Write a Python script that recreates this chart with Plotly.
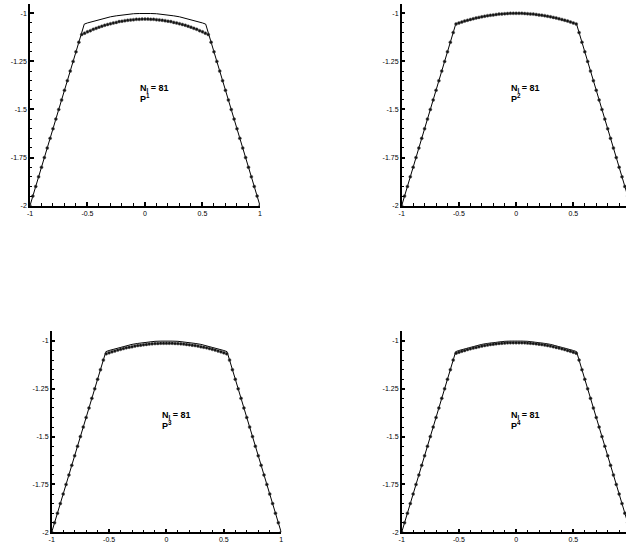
import plotly.graph_objects as go

# Nodes of the 81-point grid on [-1, 1]
node_x = [
    -1.000, -0.975, -0.950, -0.925, -0.900, -0.875, -0.850, -0.825, -0.800, -0.775,
    -0.750, -0.725, -0.700, -0.675, -0.650, -0.625, -0.600, -0.575, -0.550, -0.525,
    -0.500, -0.475, -0.450, -0.425, -0.400, -0.375, -0.350, -0.325, -0.300, -0.275,
    -0.250, -0.225, -0.200, -0.175, -0.150, -0.125, -0.100, -0.075, -0.050, -0.025,
    0.000,
    0.025, 0.050, 0.075, 0.100, 0.125, 0.150, 0.175, 0.200, 0.225, 0.250,
    0.275, 0.300, 0.325, 0.350, 0.375, 0.400, 0.425, 0.450, 0.475, 0.500,
    0.525, 0.550, 0.575, 0.600, 0.625, 0.650, 0.675, 0.700, 0.725, 0.750,
    0.775, 0.800, 0.825, 0.850, 0.875, 0.900, 0.925, 0.950, 0.975, 1.000,
]

# Exact solution (solid line)
exact_x = [-1.0, -0.528, -0.5, -0.45, -0.4, -0.35, -0.3, -0.25, -0.2, -0.15, -0.1, -0.05,
           0.0, 0.05, 0.1, 0.15, 0.2, 0.25, 0.3, 0.35, 0.4, 0.45, 0.5, 0.528, 1.0]
exact_y = [-2.0, -1.056, -1.05, -1.041, -1.032, -1.025, -1.018, -1.013, -1.008, -1.005, -1.002, -1.001,
           -1.0, -1.001, -1.002, -1.005, -1.008, -1.013, -1.018, -1.025, -1.032, -1.041, -1.05, -1.056, -2.0]

# Numerical solutions, P1..P4
p1_y = [
    -2.000, -1.950, -1.900, -1.850, -1.800, -1.750, -1.700, -1.650, -1.600, -1.550,
    -1.500, -1.450, -1.400, -1.350, -1.300, -1.250, -1.200, -1.150, -1.110, -1.103,
    -1.096, -1.090, -1.083, -1.078, -1.072, -1.067, -1.062, -1.058, -1.054, -1.050,
    -1.047, -1.043, -1.041, -1.038, -1.036, -1.034, -1.033, -1.031, -1.031, -1.030,
    -1.030,
    -1.030, -1.031, -1.031, -1.033, -1.034, -1.036, -1.038, -1.041, -1.043, -1.047,
    -1.050, -1.054, -1.058, -1.062, -1.067, -1.072, -1.078, -1.083, -1.090, -1.096,
    -1.103, -1.110, -1.150, -1.200, -1.250, -1.300, -1.350, -1.400, -1.450, -1.500,
    -1.550, -1.600, -1.650, -1.700, -1.750, -1.800, -1.850, -1.900, -1.950, -2.000,
]
p2_y = [
    -2.000, -1.950, -1.900, -1.850, -1.800, -1.750, -1.700, -1.650, -1.600, -1.550,
    -1.500, -1.450, -1.400, -1.350, -1.300, -1.250, -1.200, -1.150, -1.100, -1.055,
    -1.050, -1.045, -1.040, -1.036, -1.032, -1.028, -1.024, -1.021, -1.018, -1.015,
    -1.012, -1.010, -1.008, -1.006, -1.004, -1.003, -1.002, -1.001, -1.000, -1.000,
    -1.000,
    -1.000, -1.000, -1.001, -1.002, -1.003, -1.004, -1.006, -1.008, -1.010, -1.012,
    -1.015, -1.018, -1.021, -1.024, -1.028, -1.032, -1.036, -1.040, -1.045, -1.050,
    -1.055, -1.100, -1.150, -1.200, -1.250, -1.300, -1.350, -1.400, -1.450, -1.500,
    -1.550, -1.600, -1.650, -1.700, -1.750, -1.800, -1.850, -1.900, -1.950, -2.000,
]
p3_y = [
    -2.000, -1.950, -1.900, -1.850, -1.800, -1.750, -1.700, -1.650, -1.600, -1.550,
    -1.500, -1.450, -1.400, -1.350, -1.300, -1.250, -1.200, -1.150, -1.100, -1.067,
    -1.062, -1.057, -1.052, -1.048, -1.044, -1.040, -1.036, -1.033, -1.030, -1.027,
    -1.024, -1.022, -1.020, -1.018, -1.016, -1.015, -1.014, -1.013, -1.012, -1.012,
    -1.012,
    -1.012, -1.012, -1.013, -1.014, -1.015, -1.016, -1.018, -1.020, -1.022, -1.024,
    -1.027, -1.030, -1.033, -1.036, -1.040, -1.044, -1.048, -1.052, -1.057, -1.062,
    -1.067, -1.100, -1.150, -1.200, -1.250, -1.300, -1.350, -1.400, -1.450, -1.500,
    -1.550, -1.600, -1.650, -1.700, -1.750, -1.800, -1.850, -1.900, -1.950, -2.000,
]
p4_y = [
    -2.000, -1.950, -1.900, -1.850, -1.800, -1.750, -1.700, -1.650, -1.600, -1.550,
    -1.500, -1.450, -1.400, -1.350, -1.300, -1.250, -1.200, -1.150, -1.100, -1.064,
    -1.059, -1.054, -1.050, -1.045, -1.041, -1.037, -1.034, -1.030, -1.027, -1.024,
    -1.021, -1.019, -1.017, -1.015, -1.013, -1.012, -1.011, -1.010, -1.009, -1.009,
    -1.009,
    -1.009, -1.009, -1.010, -1.011, -1.012, -1.013, -1.015, -1.017, -1.019, -1.021,
    -1.024, -1.027, -1.030, -1.034, -1.037, -1.041, -1.045, -1.050, -1.054, -1.059,
    -1.064, -1.100, -1.150, -1.200, -1.250, -1.300, -1.350, -1.400, -1.450, -1.500,
    -1.550, -1.600, -1.650, -1.700, -1.750, -1.800, -1.850, -1.900, -1.950, -2.000,
]
numerical = [p1_y, p2_y, p3_y, p4_y]
degrees = ["1", "2", "3", "4"]
n_cells = 81

# Tick labels
x_tickvals = [-1, -0.5, 0, 0.5, 1]
x_ticktext = ["-1", "-0.5", "0", "0.5", "1"]
y_tickvals = [-2, -1.75, -1.5, -1.25, -1]
y_ticktext = ["-2", "-1.75", "-1.5", "-1.25", "-1"]

# Panel geometry: (x domain, y domain, x range)
panels = [
    ([0.0479, 0.4153], [0.6240, 0.9932], [-1, 1]),
    ([0.6417, 1.0], [0.6240, 0.9932], [-1, 0.96]),
    ([0.0826, 0.4492], [0.0269, 0.3942], [-1, 1]),
    ([0.6417, 1.0], [0.0269, 0.3942], [-1, 0.96]),
]

tick_font = dict(family="Liberation Sans, Arial, sans-serif", size=7, color="black")
label_font = dict(family="Liberation Sans, Arial, sans-serif", size=9, color="black")

fig = go.Figure()
layout = dict(
    width=626, height=547,
    margin=dict(l=0, r=0, t=0, b=0),
    paper_bgcolor="white", plot_bgcolor="white",
    showlegend=False,
    template="none",
    annotations=[],
)

for k, (xd, yd, xr) in enumerate(panels):
    n = "" if k == 0 else str(k + 1)
    xa, ya = "x" + n, "y" + n
    fig.add_trace(go.Scatter(
        x=exact_x, y=exact_y, xaxis=xa, yaxis=ya, mode="lines",
        line=dict(color="black", width=1), hoverinfo="skip",
    ))
    fig.add_trace(go.Scatter(
        x=node_x, y=numerical[k], xaxis=xa, yaxis=ya, mode="markers",
        marker=dict(symbol="circle", size=3, color="#111111",
                    line=dict(width=0.5, color="#555555")),
        hoverinfo="skip",
    ))
    layout["xaxis" + n] = dict(
        domain=xd, range=xr, anchor=ya,
        showline=True, linecolor="black", linewidth=1.5,
        showgrid=False, zeroline=False,
        tickmode="array", tickvals=x_tickvals, ticktext=x_ticktext,
        ticks="inside", ticklen=4, tickwidth=1.5, tickcolor="black",
        tickfont=tick_font,
        minor=dict(tickmode="linear", tick0=-1, dtick=0.1, ticks="inside",
                   ticklen=2.5, tickwidth=1, tickcolor="black", showgrid=False),
    )
    layout["yaxis" + n] = dict(
        domain=yd, range=[-2, -0.95], anchor=xa,
        showline=True, linecolor="black", linewidth=1.5,
        showgrid=False, zeroline=False,
        tickmode="array", tickvals=y_tickvals, ticktext=y_ticktext,
        ticks="inside", ticklen=4, tickwidth=1.5, tickcolor="black",
        tickfont=tick_font,
        minor=dict(tickmode="linear", tick0=-2, dtick=0.05, ticks="inside",
                   ticklen=2.5, tickwidth=1, tickcolor="black", showgrid=False),
    )
    layout["annotations"].append(dict(
        x=-0.06, y=-1.390, xref=xa, yref=ya, xanchor="left", yanchor="middle",
        text=f"<b>N<sub>I</sub> = {n_cells}</b>", showarrow=False, font=label_font,
    ))
    layout["annotations"].append(dict(
        x=-0.06, y=-1.440, xref=xa, yref=ya, xanchor="left", yanchor="middle",
        text=f"<b>P<sup>{degrees[k]}</sup></b>", showarrow=False, font=label_font,
    ))

fig.update_layout(**layout)
fig.write_html("out.html")
